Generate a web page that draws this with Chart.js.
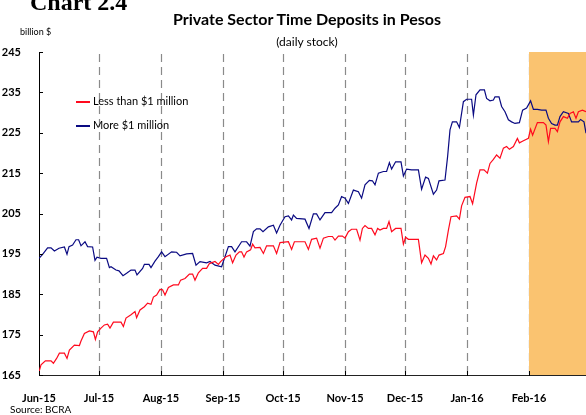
<!DOCTYPE html>
<html>
<head>
<meta charset="utf-8">
<script src="https://cdn.jsdelivr.net/npm/chart.js@4.4.1/dist/chart.umd.min.js"></script>
<style>
  html, body { margin: 0; padding: 0; background: #fff; }
  #wrap { position: relative; width: 586px; height: 415px; overflow: hidden; font-family: Lato, "Open Sans", sans-serif; color: #000; }
  #wrap canvas { position: absolute; left: 0; top: 0; }
  .txt { position: absolute; white-space: nowrap; line-height: 1; }
  #chartNo { left: 30px; top: -10px; font: bold 24px "Liberation Serif", serif; line-height: 24px; }
  #title { left: 107px; width: 400px; text-align: center; top: 11px; font-weight: bold; font-size: 16px; }
  #sub { left: 207px; width: 200px; text-align: center; top: 36px; font-size: 12px; }
  #unit { left: 20px; top: 27px; font-size: 9px; }
  #source { left: 10px; top: 404px; font-size: 10px; }
  .leg { position: absolute; left: 76px; font-size: 11px; white-space: nowrap; line-height: 12px; height: 12px; }
  .leg i { position: absolute; left: 0; top: 6px; width: 14px; height: 2px; }
  .leg b { font-weight: normal; margin-left: 17px; }
</style>
</head>
<body>
<div id="wrap">
  <canvas id="myChart" width="586" height="415"></canvas>
  <div class="txt" id="chartNo">Chart 2.4</div>
  <div class="txt" id="title">Private Sector Time Deposits in Pesos</div>
  <div class="txt" id="sub">(daily stock)</div>
  <div class="txt" id="unit">billion $</div>
  <div class="txt" id="source">Source: BCRA</div>
  <div id="legend"></div>
</div>
<script>
// maanden: dag-index vanaf 1 juni 2015
let monthLabels = ["Jun-15", "Jul-15", "Aug-15", "Sep-15", "Oct-15", "Nov-15", "Dec-15", "Jan-16", "Feb-16"];
let monthDays = [0, 30, 61, 92, 122, 153, 183, 214, 245];
let lastDay = 273.5;
let shadeFrom = 245;

let yTicks = [165, 175, 185, 195, 205, 215, 225, 235, 245];

// Less than $1 million (rood)
let redDays = [0, 1, 3.2, 6, 7.2, 8.8, 10.2, 12.7, 14, 15.2, 17.7, 20.2, 21, 22.7, 25.2, 27.2, 28.2, 29.3, 31, 32.7, 34.3, 35.5, 37.2, 41, 42.2, 43.5, 46, 48, 48.8, 50.5, 52.7, 54.3, 56, 57.2, 58.8, 60.5, 61.8, 63, 64.7, 67.2, 69.7, 70.8, 73, 75.2, 76.8, 78, 79.7, 81.8, 83.8, 85.2, 88, 89.7, 90.8, 93.5, 95.5, 96.8, 98.5, 100.2, 101.3, 102.5, 103.8, 105.8, 106.8, 108, 110.5, 112.2, 113.8, 117.2, 118.8, 120.5, 124.7, 126.3, 127.7, 133, 134.7, 136.3, 138.8, 140.5, 142.2, 144.7, 146.7, 148, 149.7, 151.7, 153, 154.7, 156.3, 158.8, 160.5, 161.7, 163, 164.7, 166.3, 168, 169.3, 170.5, 172.2, 173.8, 175, 176.3, 178.3, 181, 182.2, 183.3, 184.7, 189.7, 191.3, 193, 194.7, 196, 197.2, 198.8, 200, 202.2, 203.3, 204.7, 206, 208.8, 210.2, 211.3, 213, 215.5, 216.8, 218.8, 220.5, 222.5, 224.2, 225.5, 227.2, 228.8, 230.5, 232.2, 233.8, 235.2, 237.2, 239.2, 240.2, 242.2, 244.7, 245.8, 246.8, 249.2, 252.2, 253.5, 254.7, 255.8, 258, 259.2, 260.5, 262.2, 264.2, 265.5, 267.2, 268.5, 269.7, 271.7, 273.5];
let redValues = [165.8, 167.5, 168.5, 168.5, 167.9, 169.1, 170.4, 170.4, 169.1, 171.2, 172.4, 172.3, 173.4, 175.3, 175.9, 175.7, 173.8, 175.7, 176.6, 177.4, 177.6, 176.6, 178.1, 178.1, 177, 179.1, 179.9, 180.7, 179.2, 181.1, 181.9, 182.8, 182.5, 184.3, 184.8, 186.2, 186.1, 184.8, 186.7, 187.3, 187.3, 188.5, 188.9, 190, 190, 188.5, 190.3, 191.4, 191.4, 192.6, 193.1, 192.4, 193.1, 194.3, 194.7, 192.8, 194.7, 195.5, 195.5, 194.2, 195.5, 196, 197.4, 196.5, 196.6, 195.1, 197, 197, 195.1, 197.8, 198, 196.1, 198, 198, 196.1, 198.6, 198.9, 196.4, 198.9, 199.3, 199.3, 198.4, 199.4, 199.4, 198.9, 200.5, 201.1, 201.1, 198.4, 201.3, 202, 201.3, 201.3, 199.7, 201.3, 200.9, 201.3, 201.3, 203, 200.5, 201.3, 201.3, 197.4, 199.1, 198.6, 198.6, 192.8, 194.7, 193.9, 192.5, 194.5, 193.5, 194.7, 195.1, 196.8, 200.9, 204.2, 204.4, 203.6, 206.9, 209, 209.2, 207.4, 212.5, 215.8, 215.8, 215, 217.4, 218.4, 219.5, 218.7, 221.2, 221.6, 220.9, 221.6, 223.6, 222.5, 223, 223.6, 225.9, 224.4, 227.5, 227.5, 226.9, 222.8, 226.1, 226.1, 225.3, 227.7, 229, 228.6, 229.8, 230.2, 228.6, 230.2, 230.6, 230.2];

// More $1 million (blauw)
let blueDays = [0, 1.8, 4.3, 6, 7.7, 10, 12.7, 14, 15, 16.8, 18.5, 19.8, 21, 23, 24.3, 26.8, 28, 29, 31, 33.8, 35.2, 36, 38.5, 40, 42, 43.8, 46, 48, 49, 51.8, 52.7, 55, 56, 58, 59.7, 61.3, 63, 66.3, 68.8, 70.5, 73.8, 76.8, 78.5, 80.5, 83.8, 85.5, 88, 91.3, 94.7, 96.3, 98, 101.3, 103.8, 105.5, 107.2, 108.8, 110.5, 112, 114.7, 117.2, 118.8, 120.5, 123, 124.7, 126.3, 127.2, 128.8, 133, 135, 137.2, 138.8, 140.5, 143, 146.3, 148, 149.7, 151.3, 153, 154.7, 157.2, 159.7, 161.3, 163, 165.2, 166.7, 168, 169.7, 172.2, 173.8, 175.2, 176.3, 178.3, 181, 182.2, 183.8, 186.3, 189.7, 191.3, 193.3, 194.7, 197.2, 198.8, 200, 203, 204.3, 205.5, 206.7, 208.8, 210.2, 212.2, 213.8, 216.3, 217.2, 218.5, 220.5, 222.7, 223.8, 225.5, 227.2, 228, 230, 231.3, 233, 234.7, 236.3, 238, 240.2, 241.8, 243.8, 245.8, 247.2, 249.2, 251.3, 253.5, 254.7, 256.3, 258, 259.2, 260.5, 262.2, 264.7, 266.3, 268, 269.7, 270.8, 272.5, 273.5];
let blueValues = [193.9, 194.9, 196.5, 196.5, 195.7, 196.4, 196.7, 194.9, 196.8, 197.2, 198.5, 198.5, 197, 198, 196.8, 196.7, 193.4, 194.2, 193.9, 193.9, 191.6, 191.8, 191, 190.8, 189.6, 190.2, 191, 191, 189.8, 191.4, 192.4, 192.4, 191.6, 193.2, 194.3, 195.5, 194.3, 195.5, 195.4, 194.5, 195, 195.1, 192.2, 193.1, 192.8, 193.1, 192.2, 191.8, 196.8, 196.8, 195.5, 198, 198, 196.9, 200.5, 201.2, 201.2, 200.5, 201.7, 202.1, 200.2, 202.1, 204.2, 204.4, 203.4, 204.6, 203.8, 203.6, 201.3, 204.9, 204.9, 203.4, 205.2, 205.2, 206.3, 207.1, 209.2, 208.8, 207.5, 210.8, 210.4, 208.8, 212.1, 213.2, 213.1, 212.1, 215, 215.4, 215.4, 217.6, 216, 217.8, 217.8, 214.3, 216, 215.8, 215.8, 211, 214, 213.7, 209.8, 210.8, 213.1, 213.3, 219.1, 225.7, 227.7, 227.7, 226.3, 232.7, 233.3, 233.3, 229.4, 234.4, 235.6, 235.6, 233.5, 232.9, 233.1, 233.9, 233.9, 231.5, 230.2, 228.2, 227.7, 227.3, 227.5, 230.6, 231.1, 232.9, 230.8, 230.8, 230.6, 230.6, 228.6, 227.3, 226.9, 226.9, 229, 230.2, 229.8, 227.7, 227.7, 227.7, 228.3, 227.7, 224.9];

function toPoints(days, values) {
  let pts = [];
  for (let i = 0; i < days.length; i++) {
    pts.push({ x: days[i], y: values[i] });
  }
  return pts;
}

// achtergrond (februari), stippellijnen en tickjes naar binnen
const decorPlugin = {
  id: "decor",
  beforeDatasetsDraw(chart) {
    const { ctx, chartArea, scales } = chart;
    const x = scales.x;
    ctx.save();
    ctx.strokeStyle = "#8a8a8a";
    ctx.lineWidth = 1.2;
    ctx.setLineDash([8, 5]);
    for (let i = 1; i < monthDays.length; i++) {
      const px = Math.round(x.getPixelForValue(monthDays[i])) + 0.5;
      ctx.beginPath();
      ctx.moveTo(px, chartArea.top + 2);
      ctx.lineTo(px, chartArea.bottom);
      ctx.stroke();
    }
    ctx.setLineDash([]);
    const sx = x.getPixelForValue(shadeFrom);
    ctx.fillStyle = "#fac370";
    ctx.fillRect(sx, chartArea.top, chartArea.right - sx, chartArea.bottom - chartArea.top);
    ctx.restore();
  },
  afterDraw(chart) {
    const { ctx, chartArea, scales } = chart;
    ctx.save();
    ctx.strokeStyle = "#000";
    ctx.lineWidth = 1;
    yTicks.forEach(v => {
      const py = Math.round(scales.y.getPixelForValue(v)) + 0.5;
      ctx.beginPath();
      ctx.moveTo(chartArea.left, py);
      ctx.lineTo(chartArea.left + 4, py);
      ctx.stroke();
    });
    monthDays.forEach(d => {
      const px = Math.round(scales.x.getPixelForValue(d)) + 0.5;
      ctx.beginPath();
      ctx.moveTo(px, chartArea.bottom - 4);
      ctx.lineTo(px, chartArea.bottom + 1);
      ctx.stroke();
    });
    ctx.restore();
  }
};

let ctx = document.getElementById("myChart").getContext("2d");
let myChart = new Chart(ctx, {
  type: "line",
  data: {
    datasets: [{
      label: "Less than $1 million",
      data: toPoints(redDays, redValues),
      borderColor: "#ff0a1e",
      borderWidth: 1.2,
      pointRadius: 0,
      tension: 0
    }, {
      label: "More $1 million",
      data: toPoints(blueDays, blueValues),
      borderColor: "#0a0a82",
      borderWidth: 1.2,
      pointRadius: 0,
      tension: 0
    }]
  },
  options: {
    responsive: false,
    animation: false,
    layout: { padding: { top: 52, right: 0, left: 0, bottom: 0 } },
    plugins: {
      legend: { display: false },
      tooltip: { enabled: false }
    },
    scales: {
      x: {
        type: "linear",
        min: 0,
        max: lastDay,
        afterBuildTicks: s => { s.ticks = monthDays.map(v => ({ value: v })); },
        afterFit: s => { s.height = 40; },
        grid: { display: false },
        border: { display: true, color: "#222", width: 1 },
        ticks: {
          autoSkip: false,
          maxRotation: 0,
          padding: 9,
          color: "#000",
          font: { family: "Lato", weight: "bold", size: 11 },
          callback: v => monthLabels[monthDays.indexOf(v)]
        }
      },
      y: {
        min: 165,
        max: 245,
        afterBuildTicks: s => { s.ticks = yTicks.map(v => ({ value: v })); },
        afterFit: s => { s.width = 39; },
        grid: { display: false },
        border: { display: true, color: "#000", width: 1 },
        ticks: {
          padding: 10,
          color: "#000",
          font: { family: "Lato", weight: "bold", size: 11 }
        }
      }
    }
  },
  plugins: [decorPlugin]
});

// legenda binnen het plotvlak
let legend = document.getElementById("legend");
myChart.data.datasets.forEach((ds, i) => {
  let el = document.createElement("div");
  el.className = "leg";
  el.style.top = (95 + i * 24) + "px";
  el.innerHTML = '<i style="background:' + ds.borderColor + '"></i><b>' + ds.label + '</b>';
  legend.appendChild(el);
});
</script>
</body>
</html>
